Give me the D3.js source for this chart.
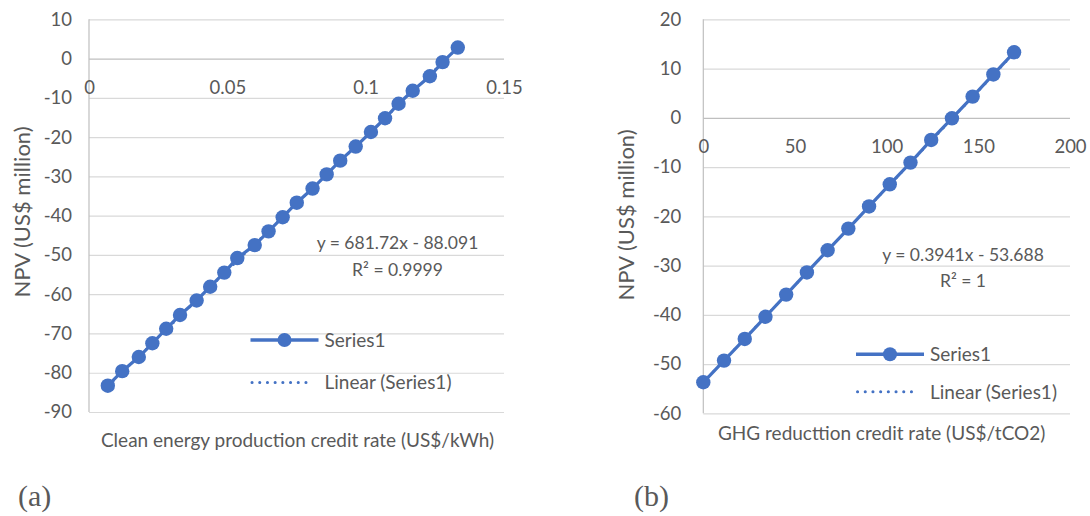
<!DOCTYPE html>
<html>
<head>
<meta charset="utf-8">
<script src="https://cdn.jsdelivr.net/npm/d3@7"></script>
<style>
  html, body { margin: 0; padding: 0; background: #ffffff; }
  svg { display: block; }
  text { font-family: Lato, "Open Sans", sans-serif; fill: #595959; }
</style>
</head>
<body>
<svg id="chart" width="1090" height="516"></svg>
<script>
// Panel (a): NPV vs clean energy production credit rate
const creditRateA = [0.0068, 0.0120, 0.0180, 0.0229, 0.0279, 0.0329, 0.0389, 0.0438, 0.0489, 0.0536,
                     0.0599, 0.0649, 0.0700, 0.0751, 0.0808, 0.0859, 0.0908, 0.0964, 0.1019, 0.1070,
                     0.1119, 0.1170, 0.1232, 0.1278, 0.1333];
const npvA = [-83.3, -79.6, -76.0, -72.5, -68.8, -65.3, -61.6, -58.1, -54.5, -50.8,
              -47.5, -44.0, -40.4, -36.7, -33.1, -29.5, -26.0, -22.4, -18.7, -15.2,
              -11.5, -8.2, -4.5, -0.9, 2.8];
const xTicksA = [0, 0.05, 0.1, 0.15];
const yTicksA = [10, 0, -10, -20, -30, -40, -50, -60, -70, -80, -90];
const trendA = { slope: 681.72, intercept: -88.091, r2: "0.9999" };

// Panel (b): NPV vs GHG reduction credit rate
const creditRateB = [0, 11.3, 22.6, 33.9, 45.2, 56.5, 67.8, 79.1, 90.4, 101.7,
                     113.0, 124.3, 135.6, 146.9, 158.2, 169.5];
const npvB = [-53.7, -49.3, -44.9, -40.4, -35.9, -31.4, -26.9, -22.5, -18.0, -13.5,
              -9.1, -4.5, -0.1, 4.3, 8.8, 13.3];
const xTicksB = [0, 50, 100, 150, 200];
const yTicksB = [20, 10, 0, -10, -20, -30, -40, -50, -60];
const trendB = { slope: 0.3941, intercept: -53.688, r2: "1" };

const BLUE = "#4472C4";
const TICK_FS = "18.5px";
const svg = d3.select("#chart");

// plain hyphen-minus, as in spreadsheet number formats
const plain = d => String(d);

function fmtEq(t) {
  const sign = t.intercept < 0 ? " - " : " + ";
  return "y = " + t.slope + "x" + sign + Math.abs(t.intercept);
}

function drawPanel(cfg) {
  const g = svg.append("g");
  const x = d3.scaleLinear().domain(cfg.xDomain).range([cfg.left, cfg.right]);
  const y = d3.scaleLinear().domain(cfg.yDomain).range([cfg.bottom, cfg.top]);

  // horizontal gridlines + y tick labels
  const yAxis = d3.axisLeft(y)
    .tickValues(cfg.yTicks)
    .tickSize(-(cfg.right - cfg.left))
    .tickPadding(cfg.yPad)
    .tickFormat(plain);
  const ya = g.append("g").attr("transform", `translate(${cfg.left},0)`).call(yAxis);
  ya.select(".domain").remove();
  ya.selectAll(".tick line").attr("stroke", d => d === 0 ? "#bfbfbf" : "#d9d9d9").attr("stroke-width", 1.2);
  ya.selectAll(".tick text").style("font-size", TICK_FS).attr("fill", "#595959")
    .style("font-family", "Lato, sans-serif");

  // vertical axis line at x = 0
  g.append("line")
    .attr("x1", x(0)).attr("x2", x(0))
    .attr("y1", cfg.top).attr("y2", cfg.bottom)
    .attr("stroke", "#bfbfbf").attr("stroke-width", 1.2);

  // x tick labels, hung below the zero line
  const xAxis = d3.axisBottom(x)
    .tickValues(cfg.xTicks)
    .tickSize(0)
    .tickPadding(cfg.xPad)
    .tickFormat(plain);
  const xa = g.append("g").attr("transform", `translate(0,${y(0)})`).call(xAxis);
  xa.select(".domain").remove();
  xa.selectAll(".tick text").style("font-size", TICK_FS).attr("fill", "#595959")
    .style("font-family", "Lato, sans-serif");

  // dotted linear trendline over the data range
  const xs = cfg.xs, ys = cfg.ys;
  const x0 = d3.min(xs), x1 = d3.max(xs);
  g.append("line")
    .attr("x1", x(x0)).attr("y1", y(cfg.trend.slope * x0 + cfg.trend.intercept))
    .attr("x2", x(x1)).attr("y2", y(cfg.trend.slope * x1 + cfg.trend.intercept))
    .attr("stroke", BLUE).attr("stroke-width", 2.5)
    .attr("stroke-dasharray", "0.1 7.5").attr("stroke-linecap", "round");

  // series line and markers
  const pts = xs.map((v, i) => [v, ys[i]]);
  g.append("path")
    .datum(pts)
    .attr("fill", "none").attr("stroke", BLUE).attr("stroke-width", 3.2)
    .attr("d", d3.line().x(d => x(d[0])).y(d => y(d[1])));
  g.selectAll("circle.pt").data(pts).join("circle")
    .attr("class", "pt")
    .attr("cx", d => x(d[0])).attr("cy", d => y(d[1]))
    .attr("r", 7.2).attr("fill", BLUE);

  // trendline equation and R²
  g.append("text").attr("x", cfg.eqX).attr("y", cfg.eqY).attr("text-anchor", "middle")
    .style("font-size", "17.5px").text(fmtEq(cfg.trend));
  g.append("text").attr("x", cfg.eqX).attr("y", cfg.eqY + cfg.eqGap).attr("text-anchor", "middle")
    .style("font-size", "17.5px").text("R² = " + cfg.trend.r2);

  // legend
  const L = cfg.legend;
  g.append("line").attr("x1", L.x).attr("x2", L.x + 68).attr("y1", L.y1).attr("y2", L.y1)
    .attr("stroke", BLUE).attr("stroke-width", 3.5);
  g.append("circle").attr("cx", L.x + 34).attr("cy", L.y1).attr("r", 7).attr("fill", BLUE);
  g.append("text").attr("x", L.x + 74).attr("y", L.y1).attr("dy", "0.36em")
    .style("font-size", "19px").text("Series1");
  g.append("line").attr("x1", L.x + 1.5).attr("x2", L.x + 62).attr("y1", L.y2).attr("y2", L.y2)
    .attr("stroke", BLUE).attr("stroke-width", 3)
    .attr("stroke-dasharray", "0.1 7.6").attr("stroke-linecap", "round");
  g.append("text").attr("x", L.x + 74).attr("y", L.y2).attr("dy", "0.36em")
    .style("font-size", "19px").text("Linear (Series1)");

  // axis titles
  g.append("text").attr("x", cfg.xTitleX).attr("y", cfg.xTitleY).attr("dy", "0.36em")
    .attr("text-anchor", "middle").style("font-size", "19px").text(cfg.xTitle);
  g.append("text")
    .attr("transform", `translate(${cfg.yTitleX},${cfg.yTitleY}) rotate(-90)`)
    .attr("dy", "0.36em").attr("text-anchor", "middle")
    .style("font-size", "22px").text("NPV (US$ million)");

  // panel label
  svg.append("text").attr("x", cfg.tagX).attr("y", 506)
    .style("font-family", "'Liberation Serif', 'Times New Roman', serif")
    .style("font-size", "30px").attr("fill", "#000000").text(cfg.tag);
}

drawPanel({
  xs: creditRateA, ys: npvA, trend: trendA,
  xDomain: [0, 0.15], yDomain: [-90, 10],
  xTicks: xTicksA, yTicks: yTicksA,
  left: 89, right: 504, top: 19.3, bottom: 412,
  yPad: 17, xPad: 22,
  eqX: 397.5, eqY: 249, eqGap: 27,
  legend: { x: 250.5, y1: 340, y2: 382.5 },
  xTitle: "Clean energy production credit rate (US$/kWh)", xTitleX: 297.5, xTitleY: 440,
  yTitleX: 22, yTitleY: 212,
  tag: "(a)", tagX: 18
});

drawPanel({
  xs: creditRateB, ys: npvB, trend: trendB,
  xDomain: [0, 200], yDomain: [-60, 20],
  xTicks: xTicksB, yTicks: yTicksB,
  left: 703.3, right: 1070, top: 19.3, bottom: 413.3,
  yPad: 22, xPad: 22,
  eqX: 963, eqY: 260.5, eqGap: 26,
  legend: { x: 856, y1: 354.3, y2: 391.7 },
  xTitle: "GHG reducttion credit rate (US$/tCO2)", xTitleX: 881.7, xTitleY: 433,
  yTitleX: 626, yTitleY: 215,
  tag: "(b)", tagX: 634
});
</script>
</body>
</html>
